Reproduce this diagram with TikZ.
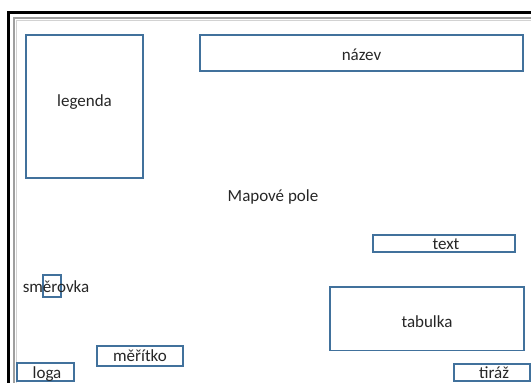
\documentclass[tikz,border=0pt]{standalone}
\usepackage{fontspec}
\setmainfont{Carlito}
\usepackage{xcolor}
\definecolor{ramecek}{RGB}{65,113,156}

\begin{document}
\begin{tikzpicture}[x=1pt,y=-1pt,
    box/.style={draw=ramecek,line width=1.5pt,inner sep=0pt},
    txt/.style={inner sep=0pt,font=\fontsize{17}{20}\selectfont,text=black!85}]
        \useasboundingbox (0,0) rectangle (531,383);
        \clip (0,0) rectangle (531,383);
        % list
        \draw[line width=2.2pt] (8.5,400)--(8.5,12.5)--(550,12.5);
        \draw[line width=2pt,gray!75] (14,400)--(14,18)--(550,18);
        \draw[line width=0.6pt,gray!35] (16,400)--(16,20)--(550,20);
        % prvky mapy
        \node[box,minimum width=117,minimum height=143] (legenda) at (84.5,106.5) {};
        \node[txt] (legendatext) at (84.5,102) {legenda};
        \node[box,minimum width=323,minimum height=36] (nazev) at (361.5,53) {};
        \node[txt] (nazevtext) at (361.5,54.5) {název};
        \node[txt] (pole) at (273,197) {Mapové pole};
        \node[box,minimum width=142,minimum height=17] (text) at (444,243.5) {};
        \node[txt] (texttext) at (446,244.5) {text};
        \node[box,minimum width=18,minimum height=22] (smerovka) at (52,286) {};
        \node[txt] (smerovkatext) at (56,286.5) {směrovka};
        \node[box,minimum width=194,minimum height=63.5] (tabulka) at (427,318.7) {};
        \node[txt] (tabulkatext) at (427,321.5) {tabulka};
        \node[box,minimum width=86,minimum height=20] (meritko) at (140,356) {};
        \node[txt] (meritkotext) at (140,356) {měřítko};
        \node[box,minimum width=57,minimum height=18] (loga) at (45.5,372) {};
        \node[txt] (logatext) at (47,374) {loga};
        \node[box,minimum width=76,minimum height=17] (tiraz) at (492,372.5) {};
        \node[txt] (tiraztext) at (494,373) {tiráž};
    \end{tikzpicture}
\end{document}
